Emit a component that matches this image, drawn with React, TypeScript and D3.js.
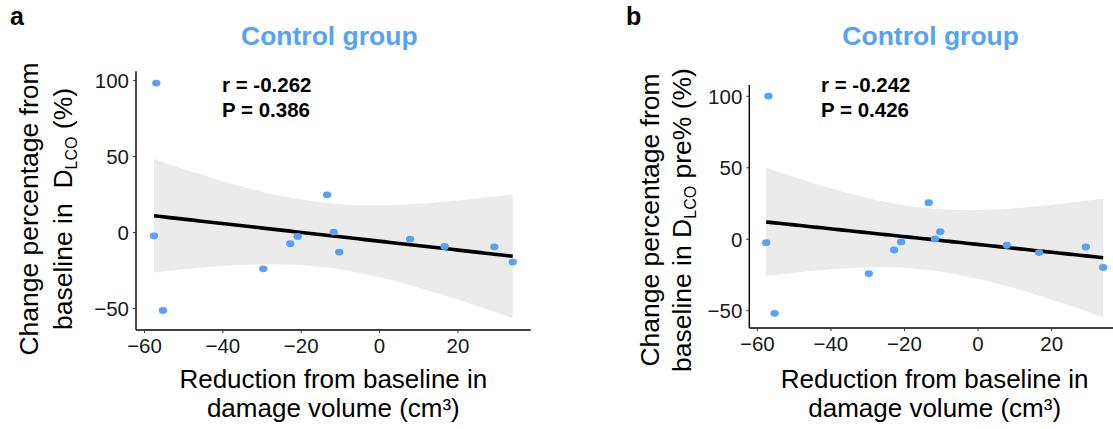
import React from 'react';
import * as d3 from 'd3';

// reduction from baseline in damage volume (cm3), same patients in both panels
const damageReduction = [-57.0, -57.6, -55.3, -29.7, -22.8, -20.9, -13.4, -11.7, -10.3, 7.8, 16.6, 29.3, 34.0];
// change from baseline in DLCO (%)
const dlcoChange = [98.4, -2.2, -51.3, -23.9, -7.4, -2.6, 24.8, 0.3, -12.9, -4.3, -9.2, -9.4, -19.5];
// change from baseline in DLCO pre% (%)
const dlcoPreChange = [100.2, -2.4, -51.8, -24.0, -7.5, -1.9, 25.6, 0.2, 5.3, -4.2, -9.3, -5.4, -19.7];

const xTicks = [-60, -40, -20, 0, 20];
const yTicks = [-50, 0, 50, 100];
const statsA = ['r = -0.262', 'P = 0.386'];
const statsB = ['r = -0.242', 'P = 0.426'];

const BLUE = '#56a3f5';
const FONT = '"Liberation Sans", Arial, Helvetica, sans-serif';
const T_CRIT = 2.201; // t(0.975, df = 11)

function smoothFit(xs: number[], ys: number[]) {
  const n = xs.length;
  const mx = d3.mean(xs)!;
  const my = d3.mean(ys)!;
  const sxx = d3.sum(xs, x => (x - mx) ** 2);
  const sxy = d3.sum(xs, (x, i) => (x - mx) * (ys[i] - my));
  const slope = sxy / sxx;
  const icpt = my - slope * mx;
  const sse = d3.sum(xs, (x, i) => (ys[i] - icpt - slope * x) ** 2);
  const s = Math.sqrt(sse / (n - 2));
  const [x0, x1] = d3.extent(xs) as [number, number];
  return d3.range(80).map(i => {
    const x = x0 + ((x1 - x0) * i) / 79;
    const fit = icpt + slope * x;
    const se = s * Math.sqrt(1 / n + (x - mx) ** 2 / sxx);
    return { x, fit, lo: fit - T_CRIT * se, hi: fit + T_CRIT * se };
  });
}

// ggplot-like 5% expansion
function expand([a, b]: number[]) {
  const d = (b - a) * 0.05;
  return [a - d, b + d];
}

type PanelProps = {
  letter: string;
  letterX: number;
  box: { left: number; right: number; top: number; bottom: number };
  ys: number[];
  stats: string[];
  statX: number;
  yTitleX: [number, number];
  yTitleY: number;
  yTitleHead: string;
  yTitleTail: string;
};

function Panel({ letter, letterX, box, ys, stats, statX, yTitleX, yTitleY, yTitleHead, yTitleTail }: PanelProps) {
  const fit = smoothFit(damageReduction, ys);
  const x = d3.scaleLinear().domain(expand(d3.extent(damageReduction) as number[])).range([box.left, box.right]);
  const yMin = Math.min(d3.min(ys)!, d3.min(fit, d => d.lo)!);
  const yMax = Math.max(d3.max(ys)!, d3.max(fit, d => d.hi)!);
  const y = d3.scaleLinear().domain(expand([yMin, yMax])).range([box.bottom, box.top]);

  const band = d3.area<any>().x(d => x(d.x)).y0(d => y(d.lo)).y1(d => y(d.hi));
  const line = d3.line<any>().x(d => x(d.x)).y(d => y(d.fit));
  const cx = (box.left + box.right) / 2;

  return (
    <g fontFamily={FONT}>
      <text x={letterX} y={25} fontSize={25} fontWeight="bold" fill="#000">{letter}</text>
      <text x={cx - 4} y={45} fontSize={26.5} fontWeight="bold" fill={BLUE} textAnchor="middle">Control group</text>

      <path d={band(fit)!} fill="#ebebeb" />
      <path d={line(fit)!} fill="none" stroke="#000" strokeWidth={3.6} />
      {damageReduction.map((d, i) => (
        <ellipse key={i} cx={x(d)} cy={y(ys[i])} rx={4.2} ry={3.4} fill={BLUE} />
      ))}

      <line x1={box.left} x2={box.left} y1={box.top} y2={box.bottom} stroke="#000" strokeWidth={1.4} />
      <line x1={box.left} x2={box.right} y1={box.bottom} y2={box.bottom} stroke="#000" strokeWidth={1.4} />
      {yTicks.map(t => (
        <g key={t}>
          <line x1={box.left - 3} x2={box.left} y1={y(t)} y2={y(t)} stroke="#333" strokeWidth={1} />
          <text x={box.left - 7} y={y(t)} dy="0.36em" fontSize={20.5} textAnchor="end" fill="#1a1a1a">
            {t < 0 ? '\u2212' + Math.abs(t) : t}
          </text>
        </g>
      ))}
      {xTicks.map(t => (
        <g key={t}>
          <line x1={x(t)} x2={x(t)} y1={box.bottom} y2={box.bottom + 3} stroke="#333" strokeWidth={1} />
          <text x={x(t)} y={box.bottom + 23} fontSize={20.5} textAnchor="middle" fill="#1a1a1a">
            {t < 0 ? '\u2212' + Math.abs(t) : t}
          </text>
        </g>
      ))}

      {stats.map((s, i) => (
        <text key={s} x={statX} y={91.7 + i * 25.6} fontSize={20.5} fontWeight="bold" fill="#000">{s}</text>
      ))}

      <text x={cx} y={387.7} fontSize={26} textAnchor="middle" fill="#000">Reduction from baseline in</text>
      <text x={cx} y={416.7} fontSize={26} textAnchor="middle" fill="#000">damage volume (cm³)</text>

      <g transform={`translate(${yTitleX[0]},${yTitleY}) rotate(-90)`}>
        <text fontSize={26.5} textAnchor="middle" fill="#000">Change percentage from</text>
      </g>
      <g transform={`translate(${yTitleX[1]},${yTitleY}) rotate(-90)`}>
        <text fontSize={26.5} textAnchor="middle" fill="#000">
          {yTitleHead}
          <tspan fontSize={16} dy={5}>LCO</tspan>
          <tspan dy={-5}>{yTitleTail}</tspan>
        </text>
      </g>
    </g>
  );
}

export default function App() {
  return (
    <svg width={1113} height={429} style={{ position: 'absolute', left: 0, top: 0, background: '#fff' }}>
      <rect width={1113} height={429} fill="#fff" />
      <Panel
        letter="a"
        letterX={10}
        box={{ left: 136, right: 530.7, top: 71.3, bottom: 330 }}
        ys={dlcoChange}
        stats={statsA}
        statX={222}
        yTitleX={[38, 72]}
        yTitleY={209}
        yTitleHead={'baseline in\u00a0\u00a0D'}
        yTitleTail={'\u00a0(%)'}
      />
      <Panel
        letter="b"
        letterX={626}
        box={{ left: 749.3, right: 1120, top: 85, bottom: 328 }}
        ys={dlcoPreChange}
        stats={statsB}
        statX={821}
        yTitleX={[659, 691]}
        yTitleY={220}
        yTitleHead={'baseline in D'}
        yTitleTail={'\u00a0pre% (%)'}
      />
    </svg>
  );
}
